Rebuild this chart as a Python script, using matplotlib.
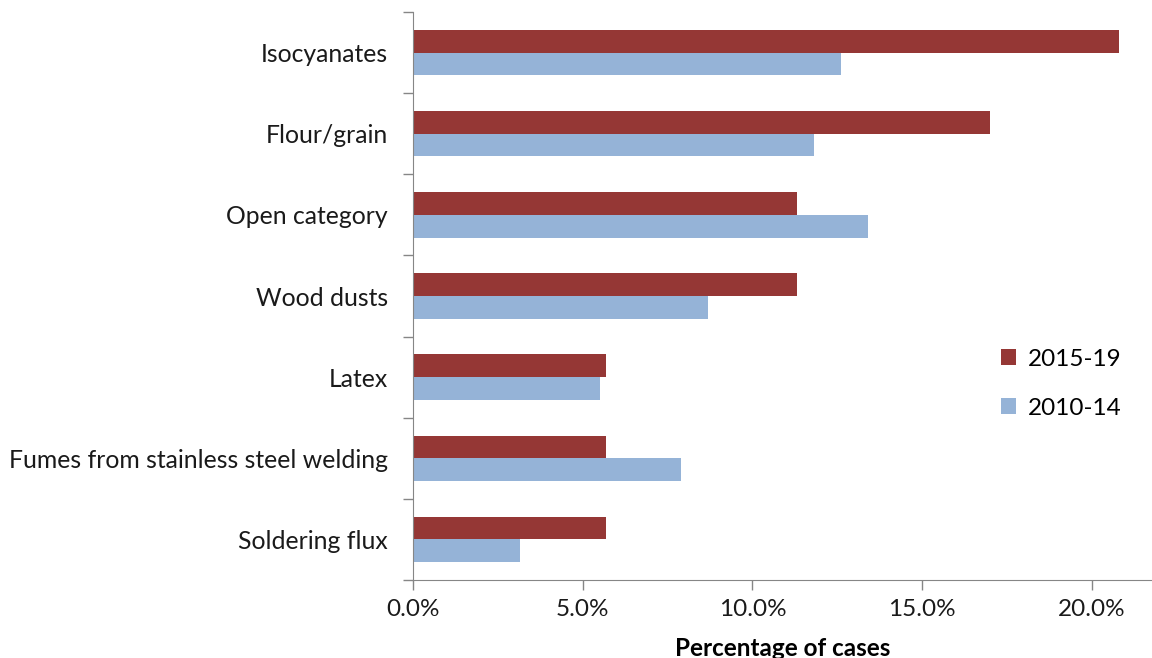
"""
Occupational asthma agents: share of cases, 2015-19 vs 2010-14
"""
import numpy as np
from matplotlib import pyplot as plt
from matplotlib.ticker import FuncFormatter, MultipleLocator

CATEGORIES = ['Isocyanates', 'Flour/grain', 'Open category', 'Wood dusts',
              'Latex', 'Fumes from stainless steel welding', 'Soldering flux']
PCT_2015_19 = [20.8, 17.0, 11.3, 11.3, 5.7, 5.7, 5.7]
PCT_2010_14 = [12.6, 11.8, 13.4, 8.7, 5.5, 7.9, 3.15]
SERIES = ['2015-19', '2010-14']

RED = '#953735'
BLUE = '#95B3D7'
GREY = '#868686'

plt.rcParams['font.family'] = ['Lato', 'DejaVu Sans']

fig = plt.figure(figsize=(11.52, 6.58), dpi=100)
ax = fig.add_axes([0.3585, 0.1185, 0.6415, 0.8633])

y = np.arange(len(CATEGORIES))
h = 0.28
ax.barh(y - h / 2, PCT_2015_19, height=h, color=RED, label=SERIES[0])
ax.barh(y + h / 2, PCT_2010_14, height=h, color=BLUE, label=SERIES[1])

ax.set_ylim(len(CATEGORIES) - 0.5, -0.5)
ax.set_xlim(0, 21.77)
ax.set_yticks(y)
ax.set_yticklabels(CATEGORIES)
ax.set_yticks(np.arange(len(CATEGORIES) + 1) - 0.5, minor=True)
ax.tick_params(axis='y', which='major', length=0, pad=18, labelsize=17.8, labelcolor='#1a1a1a')
ax.tick_params(axis='y', which='minor', length=7, color=GREY, width=1)
ax.xaxis.set_major_locator(MultipleLocator(5))
ax.xaxis.set_major_formatter(FuncFormatter(lambda v, _: f'{v:.1f}%'))
ax.tick_params(axis='x', length=7, color=GREY, width=1, labelsize=17.5, labelcolor='#1a1a1a', pad=7)

for side in ['top', 'right']:
    ax.spines[side].set_visible(False)
for side in ['left', 'bottom']:
    ax.spines[side].set_color(GREY)

ax.set_xlabel('Percentage of cases', fontsize=17.5, fontweight='bold', labelpad=12)

ax.legend(loc='center left', bbox_to_anchor=(0.85, 0.417), bbox_transform=fig.transFigure,
          frameon=False, fontsize=17.5, handlelength=0.6, handleheight=0.6,
          labelspacing=1.15, handletextpad=0.5)

fig.savefig('out.png', dpi=100)
